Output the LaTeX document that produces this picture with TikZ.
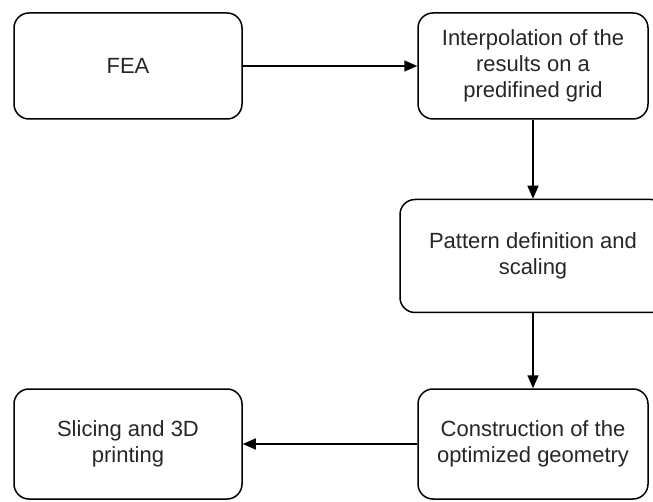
\documentclass[tikz,border=0pt]{standalone}
\usepackage{fontspec}
\setmainfont{Liberation Sans}
\usetikzlibrary{arrows.meta}

\begin{document}
\begin{tikzpicture}[x=1pt,y=-1pt,
        stepbox/.style={draw,line width=1.5pt,rounded corners=15pt,align=center,
                inner sep=0pt,text=black!85,font=\fontsize{22}{26}\selectfont},
        flow/.style={line width=1.5pt,-{Triangle[length=13pt,width=11pt]}}]
        \clip (0,0) rectangle (653,502);
        \node (fea) [stepbox,minimum width=228pt,minimum height=106pt] at (128, 66) {FEA};
        \node (interp) [stepbox,minimum width=230pt,minimum height=106pt] at (533, 66) {Interpolation of the\\results on a\\predifined grid};
        \node (pattern) [stepbox,minimum width=266pt,minimum height=113pt] at (533, 256) {Pattern definition and\\scaling};
        \node (constr) [stepbox,minimum width=230pt,minimum height=110pt] at (533, 444) {Construction of the\\optimized geometry};
        \node (slice) [stepbox,minimum width=228pt,minimum height=110pt] at (128, 444) {Slicing and 3D\\printing};
        \draw (fea) edge [flow] (interp);
        \draw (interp) edge [flow] (pattern);
        \draw (pattern) edge [flow] (constr);
        \draw (constr) edge [flow] (slice);
\end{tikzpicture}
\end{document}
